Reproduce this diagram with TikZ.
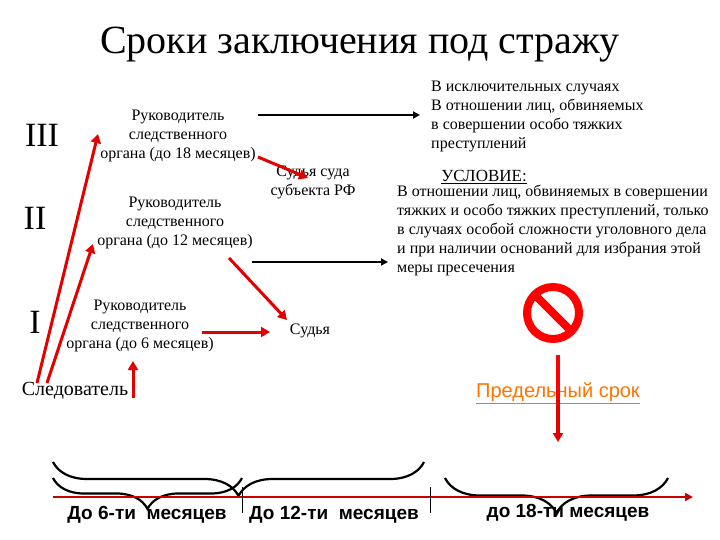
\documentclass[tikz,border=0pt]{standalone}
\usepackage{fontspec}
\setmainfont{Liberation Serif}
\newfontfamily\labfont{Liberation Sans}
\usetikzlibrary{arrows.meta,decorations.pathreplacing,calc}
\begin{document}
\begin{tikzpicture}[x=1pt,y=-1pt,
  txt/.style={font=\fontsize{16}{19}\selectfont,align=center,inner sep=1pt},
  roman/.style={font=\fontsize{34}{36}\selectfont},
  redarr/.style={draw=red!90!black,line width=3pt,-{Triangle[length=9pt,width=10pt]}},
  blkarr/.style={draw=black,line width=2pt,-{Triangle[length=7pt,width=7pt]}},
  brc/.style={decorate,decoration={brace,mirror,amplitude=#1},line width=2.2pt},
  lab/.style={font=\labfont\bfseries\fontsize{19}{21}\selectfont}]
\useasboundingbox (0,0) rectangle (720,540);
\node (title) at (360,45) {\fontsize{40}{44}\selectfont Сроки заключения под стражу};
\node[roman] (r3) at (42,135) {III};
\node[roman] (r2) at (35,218) {II};
\node[roman] (r1) at (35,322) {I};
\node[txt] (h18) at (178,136) {Руководитель\\следственного\\органа (до 18 месяцев)};
\node[txt] (h12) at (175,223) {Руководитель\\следственного\\органа (до 12 месяцев)};
\node[txt] (h6) at (140,326) {Руководитель\\следственного\\органа (до 6 месяцев)};
\node[txt] (js) at (313,182) {Судья суда\\субъекта РФ};
\node[txt] (j) at (310,331) {Судья};
\node[font=\fontsize{20}{22}\selectfont] (sl) at (75,391) {Следователь};
\node[txt,align=left,anchor=north west] (exc) at (430,80) {В исключительных случаях\\В отношении лиц, обвиняемых\\в совершении особо тяжких\\преступлений};
\node[font=\fontsize{17}{19}\selectfont] (usl) at (484,177) {\underline{УСЛОВИЕ:}};
\node[txt,align=left,anchor=north west] (cond) at (396,184) {В отношении лиц, обвиняемых в совершении\\тяжких и особо тяжких преступлений, только\\в случаях особой сложности уголовного дела\\и при наличии оснований для избрания этой\\меры пресечения};
% arrows
\coordinate (a1) at (258,115); \coordinate (a1e) at (420,115);
\draw[blkarr] (a1) -- (a1e);
\coordinate (a2) at (252,262); \coordinate (a2e) at (388,262);
\draw[blkarr] (a2) -- (a2e);
\draw[redarr] (37,383) -- (98,134);
\draw[redarr] (47,383) -- (93,244);
\draw[redarr] (133,398) -- (133,361);
\draw[redarr] (202,332) -- (270,332);
\draw[redarr] (229,258) -- (287,320);
\draw[redarr] (258,157) -- (308,178);
% sign
\node[circle,draw=red,line width=8pt,minimum size=52pt,inner sep=0] (sign) at (553,313) {};
\draw[red,line width=8pt] ($(sign.center)+(-18,-18)$) -- ($(sign.center)+(18,18)$);
\node[font=\labfont\fontsize{20}{22}\selectfont,text=orange!90!red] (lim) at (558,393) {\underline{Предельный срок}};
\draw[red,line width=4pt] (558,355) -- (558,405);
\draw[redarr,line width=4pt] (558,400) -- (558,442);
% braces
\draw[brc=31pt] (53,478) -- (242,478);
\draw[brc=34pt] (53,462) -- (424,462);
\draw[brc=35pt] (445,478) -- (668,478);
% axis
\coordinate (ax0) at (53,497); \coordinate (ax1) at (693,497);
\draw[draw=red!80!black,line width=2.5pt,-{Triangle[length=8pt,width=8pt]}] (ax0) -- (ax1);
\draw[line width=1pt] (242,487) -- (242,513);
\draw[line width=1pt] (430,487) -- (430,513);
\node[lab] (l6) at (147,515) {До 6-ти~ месяцев};
\node[lab] (l12) at (334,515) {До 12-ти~ месяцев};
\node[lab] (l18) at (568,513) {до 18-ти месяцев};
\end{tikzpicture}
\end{document}
